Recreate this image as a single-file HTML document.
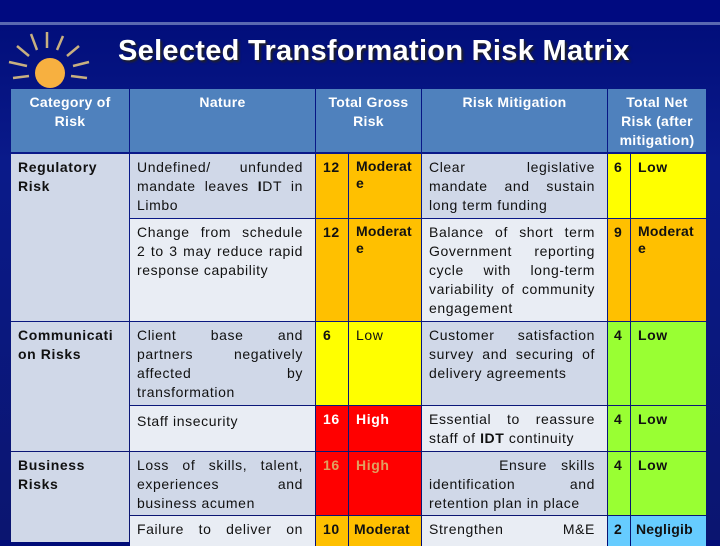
<!DOCTYPE html>
<html><head><meta charset="utf-8"><style>
*{margin:0;padding:0;box-sizing:border-box}
body{width:720px;height:540px;overflow:hidden;position:relative;font-family:"Liberation Sans",Arial,sans-serif;background:linear-gradient(180deg,#000c78 0%,#0a1a8a 30%,#0b1570 100%)}
.band{position:absolute;left:0;top:0;width:720px;height:22px;background:#000a80}
.line{position:absolute;left:0;top:22px;width:720px;height:3px;background:#5a68b0}
.title{position:absolute;left:118px;top:35px;font-size:29px;letter-spacing:0.3px;font-weight:bold;color:#fff;text-shadow:2px 2px 2px #222}
.c{position:absolute;font-size:14px;line-height:19px;letter-spacing:0.6px;color:#111;padding:4px 7px;text-align:justify;text-align-last:left}
.t{padding-right:12px}
.j{display:block;text-align-last:justify}
.h{background:#4f81bd;color:#fff;text-align:center;text-align-last:center;font-weight:bold;padding-top:4px;letter-spacing:0.3px}
.d{background:#d0d8e8}.l{background:#e9edf4}
.o{background:#ffc000;font-weight:bold}.y{background:#ffff00;font-weight:bold}.r{background:#ff0000;font-weight:bold;color:#fff}
.g{background:#99ff33;font-weight:bold}.b{background:#66ccff;font-weight:bold}
.bold{font-weight:bold}
</style></head><body>
<div class="band"></div>
<div class="line"></div>
<svg style="position:absolute;left:5px;top:28px" width="90" height="62">
<g stroke="#c8b080" stroke-width="2.5" fill="none">
<path d="M26 6 L32 22"/><path d="M42 4 L42 20"/><path d="M58 8 L52 22"/><path d="M74 18 L62 28"/><path d="M84 34 L68 38"/><path d="M12 18 L24 28"/><path d="M4 34 L22 38"/><path d="M8 50 L24 48"/><path d="M82 50 L66 48"/></g>
<circle cx="45" cy="45" r="15" fill="#f7b040"/></svg>
<div class="title">Selected Transformation Risk Matrix</div>

<div class="c h" style="left:11px;top:89px;width:118px;height:63px">Category of Risk</div>
<div class="c h" style="left:130px;top:89px;width:185px;height:63px">Nature</div>
<div class="c h" style="left:316px;top:89px;width:105px;height:63px">Total Gross Risk</div>
<div class="c h" style="left:422px;top:89px;width:185px;height:63px">Risk Mitigation</div>
<div class="c h" style="left:608px;top:89px;width:98px;height:63px">Total Net Risk (after mitigation)</div>

<div class="c d bold" style="left:11px;top:154px;width:118px;height:167px">Regulatory Risk</div>
<div class="c d bold" style="left:11px;top:322px;width:118px;height:129px">Communicati on Risks</div>
<div class="c d bold" style="left:11px;top:452px;width:118px;height:90px">Business Risks</div>

<!-- row1 -->
<div class="c d t" style="left:130px;top:154px;width:185px;height:64px">Undefined/ unfunded mandate leaves <b>I</b>DT in Limbo</div>
<div class="c o" style="left:316px;top:154px;width:32px;height:64px">12</div>
<div class="c o" style="left:349px;top:154px;width:72px;height:64px;line-height:17px;letter-spacing:0.2px">Moderat e</div>
<div class="c d t" style="left:422px;top:154px;width:185px;height:64px">Clear legislative mandate and sustain long term funding</div>
<div class="c y" style="left:608px;top:154px;width:22px;height:64px;padding-left:6px">6</div>
<div class="c y" style="left:631px;top:154px;width:75px;height:64px">Low</div>
<!-- row2 -->
<div class="c l t" style="left:130px;top:219px;width:185px;height:102px"><span class="j">Change from schedule</span><span class="j">2 to 3 may reduce rapid</span>response capability</div>
<div class="c o" style="left:316px;top:219px;width:32px;height:102px">12</div>
<div class="c o" style="left:349px;top:219px;width:72px;height:102px;line-height:17px;letter-spacing:0.2px">Moderat e</div>
<div class="c l t" style="left:422px;top:219px;width:185px;height:102px">Balance of short term Government reporting cycle with long-term variability of community engagement</div>
<div class="c o" style="left:608px;top:219px;width:22px;height:102px;padding-left:6px">9</div>
<div class="c o" style="left:631px;top:219px;width:75px;height:102px;line-height:17px;letter-spacing:0.2px">Moderat e</div>
<!-- row3 -->
<div class="c d t" style="left:130px;top:322px;width:185px;height:83px">Client base and partners negatively affected by transformation</div>
<div class="c y" style="left:316px;top:322px;width:32px;height:83px">6</div>
<div class="c y" style="left:349px;top:322px;width:72px;height:83px;font-weight:normal">Low</div>
<div class="c d t" style="left:422px;top:322px;width:185px;height:83px">Customer satisfaction survey and securing of delivery agreements</div>
<div class="c g" style="left:608px;top:322px;width:22px;height:83px;padding-left:6px">4</div>
<div class="c g" style="left:631px;top:322px;width:75px;height:83px">Low</div>
<!-- row4 -->
<div class="c l t" style="left:130px;top:406px;width:185px;height:45px;padding-top:6px">Staff insecurity</div>
<div class="c r" style="left:316px;top:406px;width:32px;height:45px">16</div>
<div class="c r" style="left:349px;top:406px;width:72px;height:45px">High</div>
<div class="c l t" style="left:422px;top:406px;width:185px;height:45px">Essential to reassure staff of <b>IDT</b> continuity</div>
<div class="c g" style="left:608px;top:406px;width:22px;height:45px;padding-left:6px">4</div>
<div class="c g" style="left:631px;top:406px;width:75px;height:45px">Low</div>
<!-- row5 -->
<div class="c d t" style="left:130px;top:452px;width:185px;height:63px">Loss of skills, talent, experiences and business acumen</div>
<div class="c r" style="left:316px;top:452px;width:32px;height:63px;color:#e0a060">16</div>
<div class="c r" style="left:349px;top:452px;width:72px;height:63px;color:#e0a060">High</div>
<div class="c d t" style="left:422px;top:452px;width:185px;height:63px">&nbsp; &nbsp; &nbsp;Ensure skills identification and retention plan in place</div>
<div class="c g" style="left:608px;top:452px;width:22px;height:63px;padding-left:6px">4</div>
<div class="c g" style="left:631px;top:452px;width:75px;height:63px">Low</div>
<!-- row6 -->
<div class="c l t" style="left:130px;top:516px;width:185px;height:30px;text-align-last:justify">Failure to deliver on</div>
<div class="c o" style="left:316px;top:516px;width:32px;height:30px">10</div>
<div class="c o" style="left:349px;top:516px;width:72px;height:30px;padding-left:5px;letter-spacing:0.2px">Moderat</div>
<div class="c l t" style="left:422px;top:516px;width:185px;height:30px;text-align-last:justify">Strengthen M&amp;E</div>
<div class="c b" style="left:608px;top:516px;width:22px;height:30px;padding-left:6px">2</div>
<div class="c b" style="left:631px;top:516px;width:75px;height:30px;padding-left:5px;letter-spacing:0.2px">Negligib</div>
</body></html>
